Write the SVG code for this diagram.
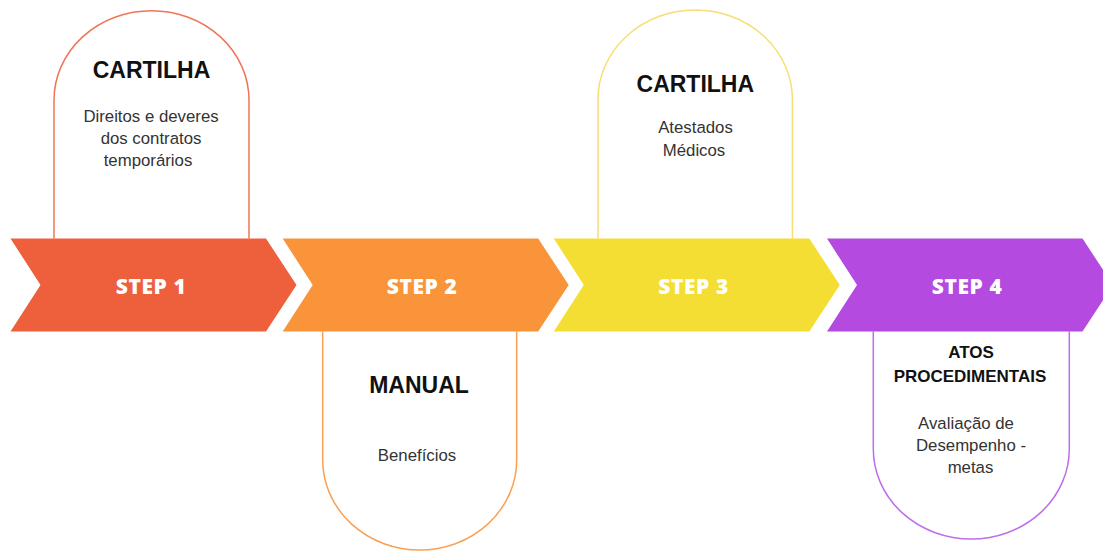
<svg xmlns="http://www.w3.org/2000/svg" width="1103" height="551" viewBox="0 0 1103 551">
<style>
.arch{fill:#ffffff;stroke-width:1.5}
.step{font-family:"Open Sans","Liberation Sans",sans-serif;font-weight:800;font-size:21px;fill:#ffffff;text-anchor:middle;letter-spacing:0.6px}
.title{font-family:"Liberation Sans",Arial,sans-serif;font-weight:700;font-size:23px;fill:#111111;text-anchor:middle}
.title2{font-family:"Liberation Sans",Arial,sans-serif;font-weight:700;font-size:17px;fill:#111111;text-anchor:middle}
.body{font-family:"Liberation Sans",Arial,sans-serif;font-size:16.8px;fill:#333333;text-anchor:middle}
</style>
<rect width="1103" height="551" fill="#ffffff"/>
<g id="node-step1">
<path class="arch" stroke="#F07557" d="M54,238.5 V100 A97.5,89.3 0 0 1 249,100 V238.5"/>
<polygon fill="#EE5F3C" points="10.5,238.5 266,238.5 296.5,285 266,331.5 10.5,331.5 40.5,285"/>
<text class="step" x="151" y="294">STEP 1</text>
<text class="title" x="151.5" y="78.3">CARTILHA</text>
<text class="body" x="151" y="121.7">Direitos e deveres</text>
<text class="body" x="151" y="143.8">dos contratos</text>
<text class="body" x="148" y="165.8">temporários</text>
</g>
<g id="node-step2">
<path class="arch" stroke="#FBA052" d="M322.7,331.5 V460 A97,90 0 0 0 516.7,460 V331.5"/>
<polygon fill="#F9943B" points="282.7,238.5 538.2,238.5 568.7,285 538.2,331.5 282.7,331.5 312.7,285"/>
<text class="step" x="422" y="294">STEP 2</text>
<text class="title" x="419" y="393.3">MANUAL</text>
<text class="body" x="417" y="460.7">Benefícios</text>
</g>
<g id="node-step3">
<path class="arch" stroke="#F8DE72" d="M598,238.5 V99.5 A97.2,89.5 0 0 1 792.4,99.5 V238.5"/>
<polygon fill="#F5DE34" points="553.8,238.5 809.3,238.5 839.8,285 809.3,331.5 553.8,331.5 583.8,285"/>
<text class="step" x="693.5" y="294">STEP 3</text>
<text class="title" x="695.3" y="91.8">CARTILHA</text>
<text class="body" x="695.5" y="133">Atestados</text>
<text class="body" x="694" y="155.5">Médicos</text>
</g>
<g id="node-step4">
<path class="arch" stroke="#BE6EEA" d="M873.3,331.5 V449 A98,90 0 0 0 1069.3,449 V331.5"/>
<polygon fill="#B44AE0" points="827,238.5 1082.5,238.5 1113,285 1082.5,331.5 827,331.5 857,285"/>
<text class="step" x="967" y="294">STEP 4</text>
<text class="title2" x="971" y="358.3">ATOS</text>
<text class="title2" x="970" y="381.7">PROCEDIMENTAIS</text>
<text class="body" x="966" y="428.5">Avaliação de</text>
<text class="body" x="971" y="450.7">Desempenho -</text>
<text class="body" x="970.5" y="473.3">metas</text>
</g>
<g id="connectors"></g>
</svg>
